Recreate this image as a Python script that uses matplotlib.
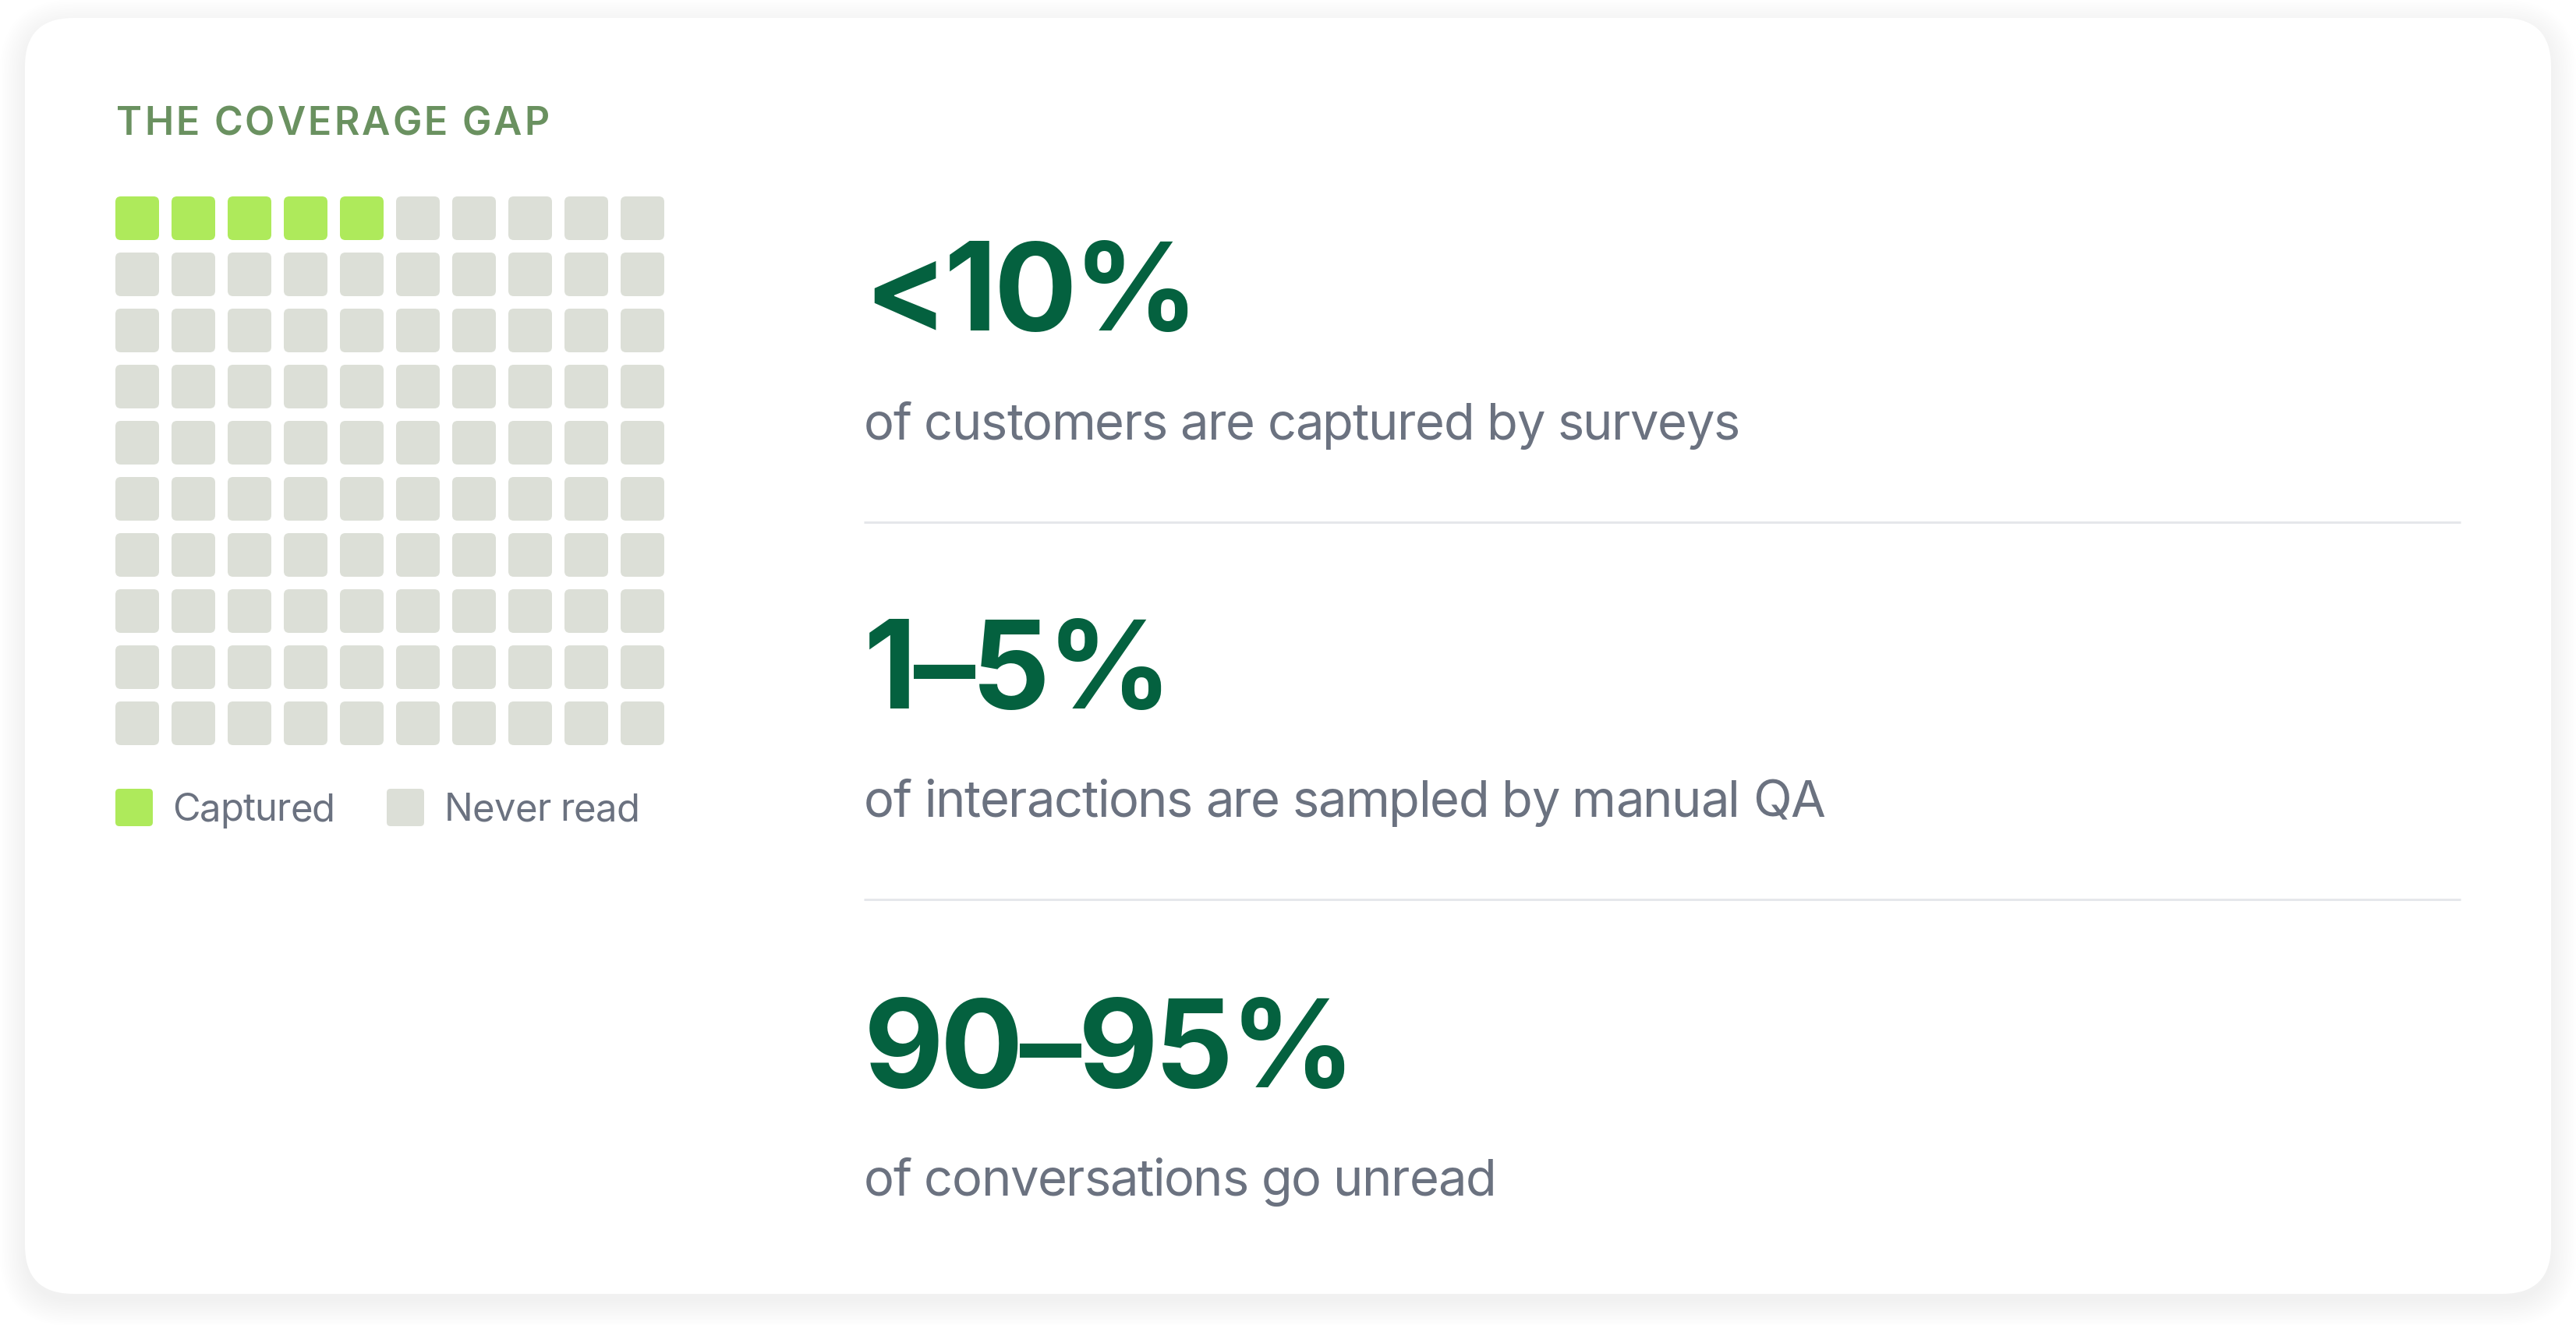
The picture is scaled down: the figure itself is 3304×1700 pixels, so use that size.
import matplotlib
matplotlib.use("Agg")
import matplotlib.pyplot as plt
from matplotlib.patches import FancyBboxPatch
from matplotlib.font_manager import FontProperties, findfont
from matplotlib.ft2font import FT2Font

W, H = 3304, 1700
DPI = 200

TITLE = "THE COVERAGE GAP"
GRID_ROWS = 10
GRID_COLS = 10
CAPTURED = 5  # cells out of 100
LEGEND_LABELS = ["Captured", "Never read"]
STAT_VALUES = ["<10%", "1–5%", "90–95%"]
STAT_TEXTS = [
    "of customers are captured by surveys",
    "of interactions are sampled by manual QA",
    "of conversations go unread",
]

LIME = "#aeea5b"
GREY = "#dcdfd7"
DARK = "#04613f"
MUTED = "#6b7280"
TITLE_GREEN = "#6a9160"
RULE = "#e5e7eb"
FAMILY = ["Inter", "DejaVu Sans"]


def pt(pixels):
    return pixels * 72 / DPI


def spaced_text(ax, x, y, s, fp, tracking, **kw):
    # matplotlib has no letter-spacing, so lay the glyphs out one by one
    font = FT2Font(findfont(fp))
    font.set_size(fp.get_size_in_points(), DPI)
    prev = None
    for ch in s:
        idx = font.get_char_index(ord(ch))
        if prev is not None:
            try:
                x += font.get_kerning(prev, idx, 0) / 64
            except Exception:
                pass
        ax.text(x, y, ch, fontproperties=fp, **kw)
        glyph = font.load_char(ord(ch))
        x += glyph.linearHoriAdvance / 65536 + tracking
        prev = idx


def rounded(ax, x, y, w, h, r, **kw):
    ax.add_patch(FancyBboxPatch((x, y), w, h,
                                boxstyle=f"round,pad=0,rounding_size={r}", **kw))


fig = plt.figure(figsize=(W / DPI, H / DPI), dpi=DPI, facecolor="white")
ax = fig.add_axes([0, 0, 1, 1])
ax.set_xlim(0, W)
ax.set_ylim(H, 0)
ax.axis("off")

# card with a soft shadow
cx, cy, cw, ch, cr = 32, 23, 3240, 1637, 62
for i in range(14):
    g = 2.5 * i
    rounded(ax, cx - g, cy - g + 9, cw + 2 * g, ch + 2 * g, cr + g,
            fc="black", ec="none", alpha=0.0045, zorder=0)
rounded(ax, cx, cy, cw, ch, cr, fc="white", ec="none", zorder=1)

# title
title_fp = FontProperties(family=FAMILY, weight="semibold", size=pt(50))
spaced_text(ax, 149, 173, TITLE, title_fp, 3.0, color=TITLE_GREEN,
            va="baseline", ha="left", zorder=3)

# waffle
cell, pitch, gx, gy = 56, 72, 148, 252
for r in range(GRID_ROWS):
    for c in range(GRID_COLS):
        idx = r * GRID_COLS + c
        color = LIME if idx < CAPTURED else GREY
        rounded(ax, gx + c * pitch, gy + r * pitch, cell, cell, 7,
                fc=color, ec="none", zorder=2)

# legend
leg_fp = FontProperties(family=FAMILY, weight="normal", size=pt(49))
for (sx, tx), label, color in zip([(148, 221), (496, 570)], LEGEND_LABELS, [LIME, GREY]):
    rounded(ax, sx, 1012, 48, 48, 5, fc=color, ec="none", zorder=2)
    spaced_text(ax, tx, 1053, label, leg_fp, -0.9, color=MUTED,
                va="baseline", ha="left", zorder=3)

# stats
num_fp = FontProperties(family=FAMILY, weight="bold", size=pt(158))
sub_fp = FontProperties(family=FAMILY, weight="normal", size=pt(65))
num_base = [424, 909, 1395]
sub_base = [564, 1048, 1534]
for i, (val, txt) in enumerate(zip(STAT_VALUES, STAT_TEXTS)):
    spaced_text(ax, 1108, num_base[i], val, num_fp, -4.5, color=DARK,
                va="baseline", ha="left", zorder=3)
    spaced_text(ax, 1108, sub_base[i], txt, sub_fp, -1.35, color=MUTED,
                va="baseline", ha="left", zorder=3)
    if i < len(STAT_VALUES) - 1:
        y = sub_base[i] + 106
        ax.plot([1108, 3156], [y, y], color=RULE, lw=pt(3),
                solid_capstyle="butt", zorder=3)

fig.savefig("out.png", dpi=DPI, facecolor="white")
